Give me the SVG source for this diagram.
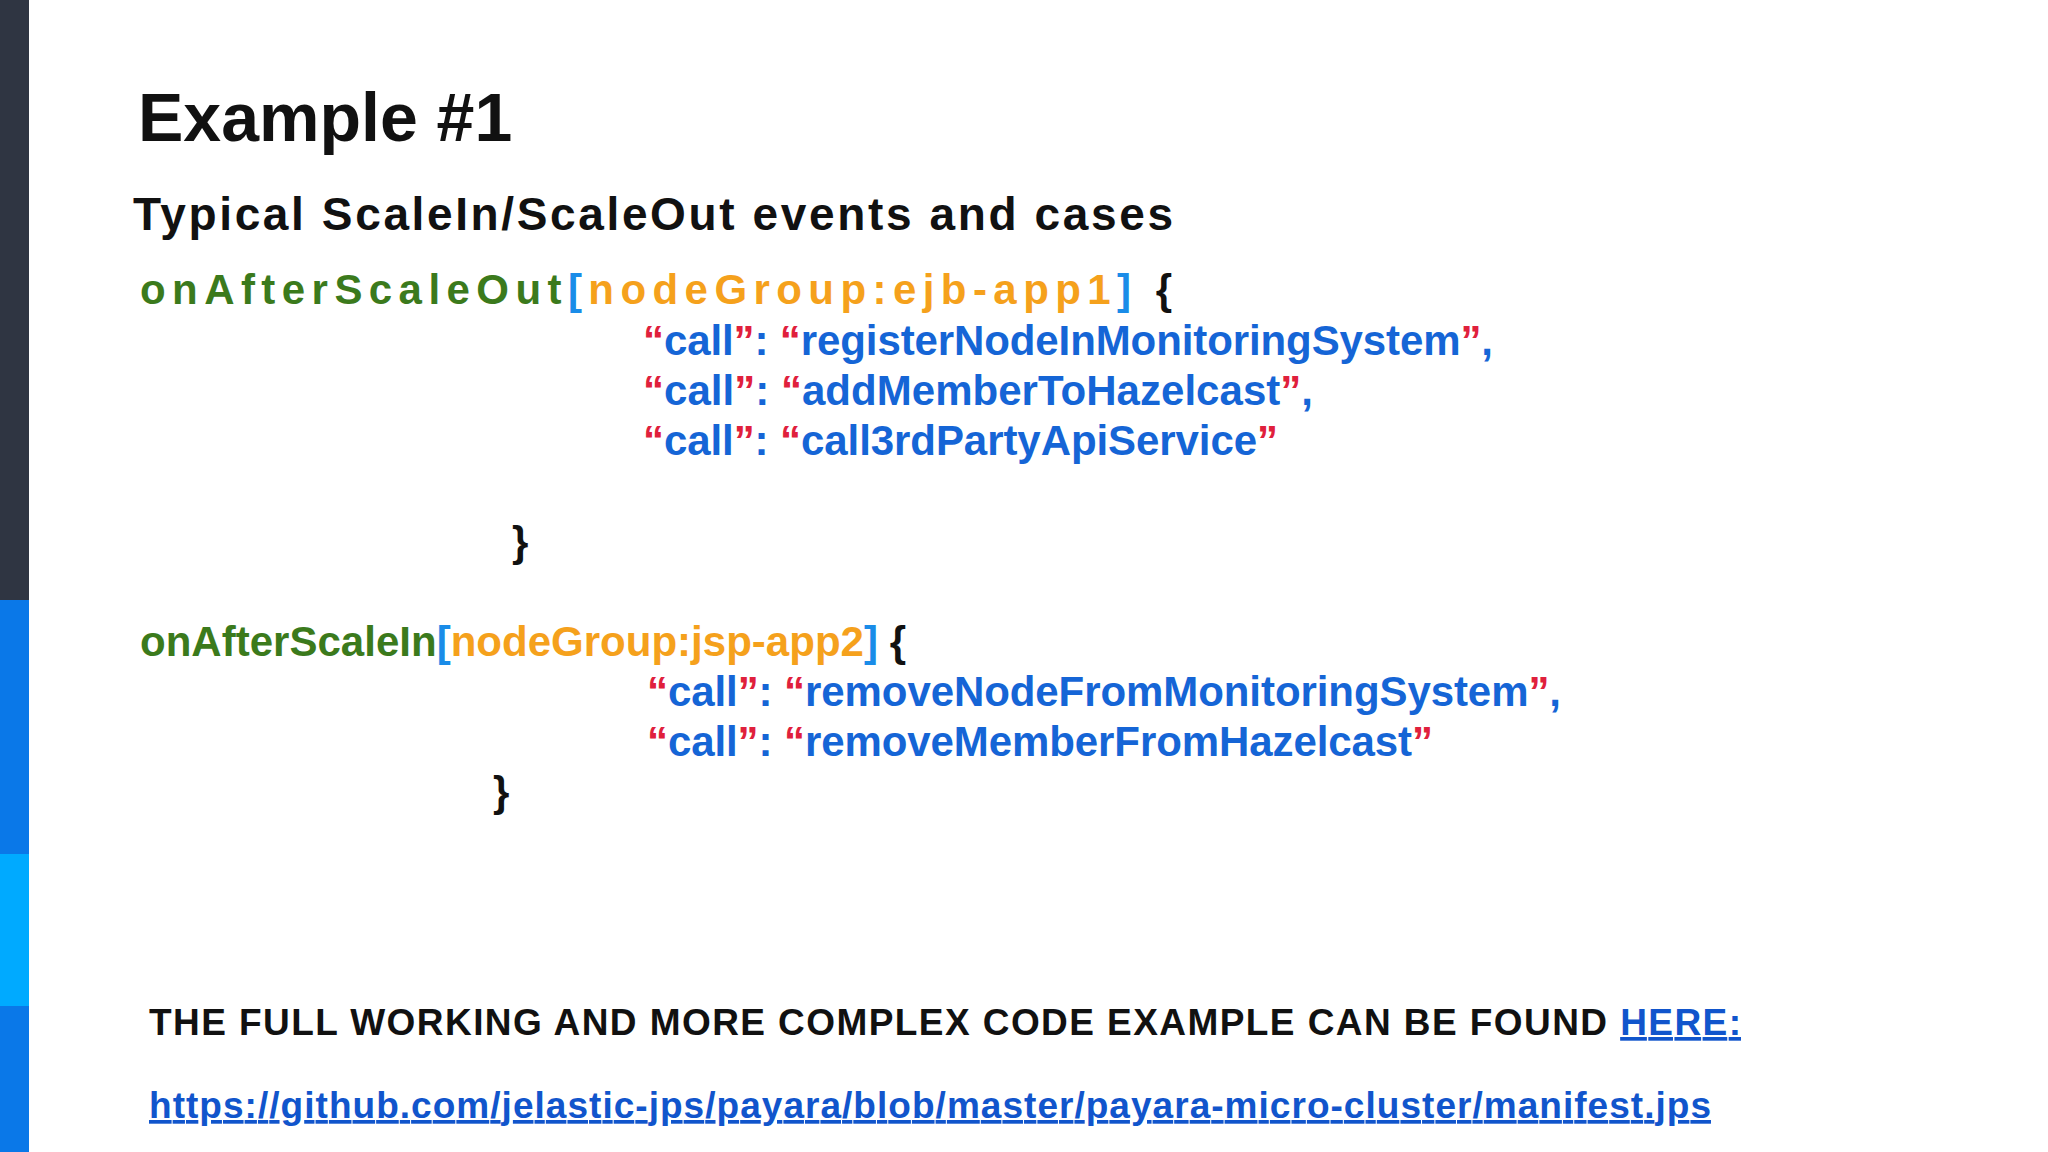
<svg xmlns="http://www.w3.org/2000/svg" width="2048" height="1152" viewBox="0 0 2048 1152">
<style>
text{font-family:"Liberation Sans",Arial,sans-serif;font-weight:bold}
.g{fill:#3b7a1c}.o{fill:#f5a11c}.b{fill:#1a8ce8}.k{fill:#111}.r{fill:#e0203c}.c{fill:#1565d6}
.code{font-size:42px}
</style>
<rect width="2048" height="1152" fill="#ffffff"/>
<rect x="0" y="0" width="29" height="600" fill="#2f3542"/>
<rect x="0" y="600" width="29" height="254" fill="#0a78e8"/>
<rect x="0" y="854" width="29" height="152" fill="#00aaff"/>
<rect x="0" y="1006" width="29" height="146" fill="#0a78e8"/>
<g id="title"><text x="138" y="141" font-size="68" class="k">Example #1</text></g>
<g id="subtitle"><text x="133" y="230" font-size="46" class="k" textLength="1040">Typical ScaleIn/ScaleOut events and cases</text></g>
<g id="block1" class="code">
<text x="140" y="304" textLength="1032"><tspan class="g">onAfterScaleOut</tspan><tspan class="b">[</tspan><tspan class="o">nodeGroup:ejb-app1</tspan><tspan class="b">]</tspan><tspan class="k"> {</tspan></text>
<text x="643" y="355" textLength="850"><tspan class="r">“</tspan><tspan class="c">call</tspan><tspan class="r">”</tspan><tspan class="c">: </tspan><tspan class="r">“</tspan><tspan class="c">registerNodeInMonitoringSystem</tspan><tspan class="r">”</tspan><tspan class="c">,</tspan></text>
<text x="643" y="405" textLength="670"><tspan class="r">“</tspan><tspan class="c">call</tspan><tspan class="r">”</tspan><tspan class="c">: </tspan><tspan class="r">“</tspan><tspan class="c">addMemberToHazelcast</tspan><tspan class="r">”</tspan><tspan class="c">,</tspan></text>
<text x="643" y="455" textLength="635"><tspan class="r">“</tspan><tspan class="c">call</tspan><tspan class="r">”</tspan><tspan class="c">: </tspan><tspan class="r">“</tspan><tspan class="c">call3rdPartyApiService</tspan><tspan class="r">”</tspan></text>
<text x="512" y="556" class="k">}</text>
</g>
<g id="block2" class="code">
<text x="140" y="656" textLength="766"><tspan class="g">onAfterScaleIn</tspan><tspan class="b">[</tspan><tspan class="o">nodeGroup:jsp-app2</tspan><tspan class="b">]</tspan><tspan class="k"> {</tspan></text>
<text x="647" y="706" textLength="914"><tspan class="r">“</tspan><tspan class="c">call</tspan><tspan class="r">”</tspan><tspan class="c">: </tspan><tspan class="r">“</tspan><tspan class="c">removeNodeFromMonitoringSystem</tspan><tspan class="r">”</tspan><tspan class="c">,</tspan></text>
<text x="647" y="756" textLength="786"><tspan class="r">“</tspan><tspan class="c">call</tspan><tspan class="r">”</tspan><tspan class="c">: </tspan><tspan class="r">“</tspan><tspan class="c">removeMemberFromHazelcast</tspan><tspan class="r">”</tspan></text>
<text x="493" y="806" class="k">}</text>
</g>
<g id="footer" font-size="37">
<text x="149" y="1035" textLength="1592"><tspan class="k">THE FULL WORKING AND MORE COMPLEX CODE EXAMPLE CAN BE FOUND </tspan><tspan fill="#1155cc" text-decoration="underline">HERE:</tspan></text>
<text x="149" y="1118" fill="#1155cc" text-decoration="underline" textLength="1562">https://github.com/jelastic-jps/payara/blob/master/payara-micro-cluster/manifest.jps</text>
</g>
</svg>
